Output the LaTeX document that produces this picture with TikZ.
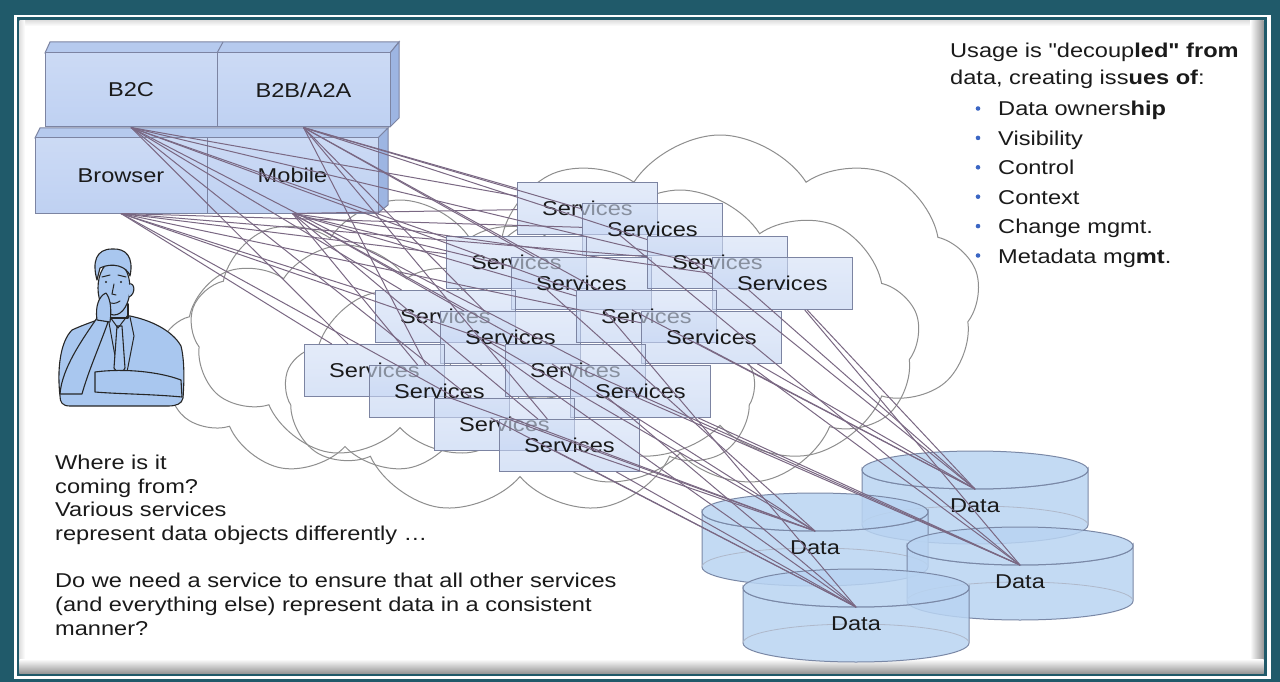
\documentclass[tikz,border=0pt]{standalone}
\usepackage{fontspec}
\setmainfont{Liberation Sans}[FakeStretch=1.18,Ligatures=TeXOff]
\usetikzlibrary{shapes.symbols}

\definecolor{framecol}{HTML}{205A6A}
\definecolor{boxline}{HTML}{7C84A2}
\definecolor{boxblue}{HTML}{BFD1F2}
\definecolor{boxtop}{HTML}{B6CAEE}
\definecolor{boxside}{HTML}{9DB5E2}
\definecolor{wirecol}{HTML}{7A6883}
\definecolor{cloudline}{HTML}{8E8E8E}
\definecolor{cylblue}{HTML}{B9D4F2}
\definecolor{cylline}{HTML}{7A88A6}
\definecolor{manblue}{HTML}{A9C7EF}
\definecolor{bulletblue}{HTML}{3B66C4}
\definecolor{inkcol}{HTML}{1A1A1A}

\begin{document}
\begin{tikzpicture}[x=1pt,y=-1pt,
  every node/.style={font=\fontsize{20}{24}\selectfont, text=inkcol},
  clientbox/.style={draw=boxline,line width=1pt,top color=boxblue!80,middle color=white,bottom color=boxblue,inner sep=0pt},
  facetop/.style={draw=boxline,line width=1pt,fill=boxtop},
  faceside/.style={draw=boxline,line width=1pt,fill=boxside},
  undercoat/.style={fill=white,minimum width=140,minimum height=52,inner sep=0pt,anchor=north west},
  servicebox/.style={draw=boxline,line width=0.9pt,top color=boxblue!70,middle color=white,bottom color=boxblue,
    fill opacity=0.6,text opacity=1,minimum width=140,minimum height=52,inner sep=0pt,anchor=north west},
  cloudy/.style={cloud,cloud puffs=9,cloud puff arc=115,draw=cloudline,line width=1pt,inner sep=0pt},
  cylbody/.style={draw=cylline,line width=1pt,left color=cylblue,middle color=white,right color=cylblue,fill opacity=0.85},
  cylend/.style={draw=cylline,line width=1pt,fill=cylblue,fill opacity=0.85},
  cylback/.style={draw=cylline!60,line width=0.8pt},
  wire/.style={draw=wirecol,line width=1pt},
  textline/.style={anchor=base west,inner sep=0pt},
  man/.style={draw=black!85,fill=manblue,line width=1.1pt,line join=round},
  manline/.style={draw=black!85,line width=1pt,line cap=round}]
\useasboundingbox (0,0) rectangle (1280,682);
%%% frame
\fill[framecol] (0,0) rectangle (1280,682);
\fill[white] (14,15) rectangle (1270.5,679);
\fill[framecol] (16.5,17.5) rectangle (1267,676);
\fill[white] (19.5,20.5) rectangle (1263.5,673);
\shade[top color=black!12,bottom color=white] (19.5,20.5) rectangle (1263.5,26);
\shade[left color=black!12,right color=white] (19.5,20.5) rectangle (25,673);
\shade[left color=white,right color=black!40] (1250,20.5) rectangle (1263.5,673);
\shade[top color=white,bottom color=black!40] (19.5,659) rectangle (1263.5,673);
%
%%% clouds
\node[cloudy,minimum width=520,minimum height=330,aspect=1.6] (cl1) at (720,300) {};
\node[cloudy,minimum width=480,minimum height=300,aspect=1.6] (cl2) at (680,340) {};
\node[cloudy,minimum width=470,minimum height=250,aspect=1.9] (cl3) at (520,390) {};
\node[cloudy,minimum width=420,minimum height=260,aspect=1.6] (cl4) at (400,330) {};
\node[cloudy,minimum width=370,minimum height=230,aspect=1.6] (cl5) at (345,360) {};
%
%%% clients
% lower row
\filldraw[facetop] (35,138) -- (40,128) -- (388,128) -- (378,138) -- cycle;
\filldraw[faceside] (378,138) -- (388,128) -- (388,205) -- (378,213) -- cycle;
\node[clientbox,minimum width=172,minimum height=75] (browser) at (121,175.5) {Browser};
\node[clientbox,minimum width=171,minimum height=75] (mobile) at (292.5,175.5) {Mobile};
% upper row
\filldraw[facetop] (45,53) -- (50,42) -- (399,42) -- (390,53) -- cycle;
\filldraw[faceside] (390,53) -- (399,42) -- (399,118) -- (390,127) -- cycle;
\draw[boxline,line width=1pt] (217,53) -- (223,42);
\node[clientbox,minimum width=172,minimum height=74] (b2c) at (131,90) {B2C};
\node[clientbox,minimum width=173,minimum height=74] (b2b) at (303.5,90) {B2B/A2A};
%
%%% services, in pairs
\foreach \n/\px/\py in {1/517/182,2/446/236,3/647/236,4/375/290,5/576/290,6/304/344,7/505/344,8/434/398}{
  \node[undercoat] at (\px,\py) {};
  \node[undercoat] at (\px+65,\py+21) {};
}
\foreach \n/\px/\py in {1/517/182,2/446/236,3/647/236,4/375/290,5/576/290,6/304/344,7/505/344,8/434/398}{
  \node[servicebox] (sv\n a) at (\px,\py) {Services};
  \node[servicebox] (sv\n b) at (\px+65,\py+21) {Services};
}
%
%%% data stores
\foreach \n/\cx/\ty in {3/975/470,1/815/512,4/1020/546,2/856/588}{
  \pgfmathsetmacro\by{\ty+55}
  \path[cylbody] (\cx-113,\ty) -- (\cx-113,\by)
    arc[start angle=180,end angle=0,x radius=113,y radius=19]
    -- (\cx+113,\ty) arc[start angle=0,end angle=180,x radius=113,y radius=19] -- cycle;
  \draw[cylback] (\cx+113,\by) arc[start angle=0,end angle=-180,x radius=113,y radius=19];
  \draw[cylend] (\cx,\ty) ellipse [x radius=113,y radius=19];
  \node (data\n) at (\cx,\ty+36) {Data};
  \coordinate (dtop\n) at (\cx,\ty+19);
}
%
%%% wires: clients to services, services to data
\foreach \c/\ts in {b2c/{1a,2a,3b,4a,5a,6a,7b,8a},b2b/{1a,1b,2b,3a,4b,5a,6b,8b},
    browser/{1b,2a,3a,4a,5b,6a,7a,8a},mobile/{1a,2b,3b,4b,5a,6b,7a,8b}}
  \foreach \t in \ts {\draw[wire] (\c.south) -- (sv\t);}
\foreach \d/\ts in {1/{2a,4a,4b,6a,6b,8a},2/{2b,4a,6b,7a,8a,8b},
    3/{1b,2b,3a,3b,5a,5b},4/{1a,3b,4b,5b,7a,7b}}
  \foreach \t in \ts {\draw[wire] (sv\t) -- (dtop\d);}
%
%%% the thinking man
\filldraw[man] (60,396) .. controls (57,370) and (60,342) .. (72,330)
  .. controls (85,324) and (98,320) .. (108,316) -- (130,316)
  .. controls (150,320) and (172,330) .. (181,346)
  .. controls (185,362) and (184,385) .. (183,398)
  .. controls (182,404) and (176,406) .. (168,406)
  -- (70,406) .. controls (62,406) and (60,402) .. (60,396) -- cycle;
\draw[manline] (108,317) -- (113,345) -- (118,372);
\draw[manline] (130,317) -- (134,336) -- (127,372);
\filldraw[man] (117,326) -- (122,326) -- (125,368) -- (120,376) -- (114,368) -- cycle;
\filldraw[man] (95,372) .. controls (125,368) and (160,372) .. (181,380)
  -- (182,397) .. controls (150,394) and (118,394) .. (95,392) -- cycle;
\filldraw[man] (60,394) .. controls (62,368) and (82,340) .. (97,318)
  -- (108,322) .. controls (100,345) and (88,372) .. (82,394) -- cycle;
\filldraw[man] (106,304) -- (106,318) -- (128,318) -- (128,304) -- cycle;
\draw[manline] (110,317) -- (118,328) -- (128,315);
\filldraw[man] (114,288) ellipse [x radius=16,y radius=27];
\filldraw[man] (129,284) .. controls (135,282) and (136,294) .. (129,297);
\filldraw[man] (97,280) .. controls (92,262) and (96,249) .. (112,249)
  .. controls (126,248) and (134,257) .. (130,276)
  .. controls (127,266) and (112,262) .. (100,268) -- cycle;
\draw[manline] (102,277) -- (110,275);
\draw[manline] (118,275) -- (126,277);
\fill[black!85] (106,282) circle (1.2);
\fill[black!85] (121,282) circle (1.2);
\draw[manline] (114,284) -- (112,294) -- (116,295);
\draw[manline] (108,302) .. controls (112,304) and (116,304) .. (120,301);
\filldraw[man] (97,320) .. controls (95,306) and (99,296) .. (106,293)
  .. controls (110,298) and (112,308) .. (110,322) -- cycle;
%
%%% notes
\node[textline] (usage) at (950,58) {Usage is "decoup\textbf{led" from}};
\node[textline] (issues) at (950,85) {data, creating iss\textbf{ues of}:};
\foreach \t [count=\i from 0] in {Data owners\textbf{hip},Visibility,Control,Context,Change mgmt.,Metadata mg\textbf{mt}.}{
  \fill[bulletblue] (978,108.5+29.4*\i) circle (2.3);
  \node[textline] (issue\i) at (998,116+29.4*\i) {\t};
}
\node[textline] (where) at (55,469) {Where is it};
\node[textline] (coming) at (55,493) {coming from?};
\node[textline] (various) at (55,516) {Various services};
\node[textline] (differ) at (55,540) {represent data objects differently …};
\node[textline] (need) at (55,587) {Do we need a service to ensure that all other services};
\node[textline] (everything) at (55,611) {(and everything else) represent data in a consistent};
\node[textline] (manner) at (55,635) {manner?};
\end{tikzpicture}
\end{document}
